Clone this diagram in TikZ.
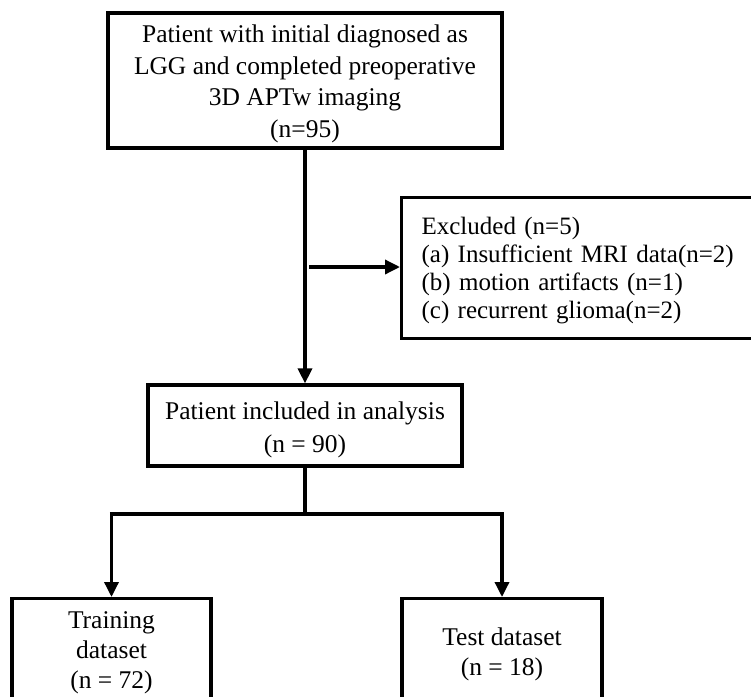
\documentclass[tikz,border=0pt]{standalone}
\usepackage{fontspec}
\setmainfont{Liberation Serif}
\usetikzlibrary{arrows.meta}
\newcommand{\lowerstrut}[1]{\rule{0pt}{#1}}
\begin{document}
\begin{tikzpicture}[x=1bp,y=-1bp,
  box/.style={draw=black,line width=3.2bp,rectangle,inner sep=0pt,align=center,
    font=\fontsize{25.5bp}{31.5bp}\selectfont},
  conn/.style={line width=3.4bp},
  arr/.style={conn,-{Triangle[length=15bp,width=14bp]}}]
\useasboundingbox (0,0) rectangle (751,697);
\clip (0,0) rectangle (751,697);
\fill[white] (0,0) rectangle (751,697);
% boxes
\node[box,minimum width=394bp,minimum height=135bp] (top) at (305,80.5)
  {\lowerstrut{24bp}Patient with initial diagnosed as\\LGG and completed preoperative\\3D APTw imaging\\(n=95)};
\node[box,anchor=north west,minimum height=141bp,text width=340bp,inner xsep=20bp,align=left,
  font=\fontsize{25bp}{28bp}\selectfont] (exc) at (400,196)
  {\lowerstrut{22bp}Excluded (n=5)\\(a) Insufficient MRI data(n=2)\\(b) motion artifacts (n=1)\\(c) recurrent glioma(n=2)};
\node[box,minimum width=314bp,minimum height=81bp,font=\fontsize{25.5bp}{33bp}\selectfont] (mid) at (305,425.5)
  {\lowerstrut{26bp}Patient included in analysis\\(n = 90)};
\node[box,anchor=north,minimum width=199bp,minimum height=108bp,font=\fontsize{25.5bp}{30bp}\selectfont] (train) at (111.5,597)
  {Training\\dataset\\(n = 72)};
\node[box,anchor=north,minimum width=200bp,minimum height=108bp,font=\fontsize{25.5bp}{30bp}\selectfont] (test) at (502,597)
  {\lowerstrut{21bp}Test dataset\\(n = 18)};
% coordinates
\coordinate (split) at (309,267);
\coordinate (branch) at (305,514);
\coordinate (bl) at (111.5,514);
\coordinate (br) at (502,514);
% connectors
\draw[arr] (top.south) -- (mid.north);
\draw[arr] (split) -- (split -| exc.west);
\draw[conn] (mid.south) -- (branch);
\draw[conn] ([xshift=-1.7bp]bl) -- ([xshift=1.7bp]br);
\draw[arr] (bl) -- (train.north);
\draw[arr] (br) -- (test.north);
\end{tikzpicture}
\end{document}
